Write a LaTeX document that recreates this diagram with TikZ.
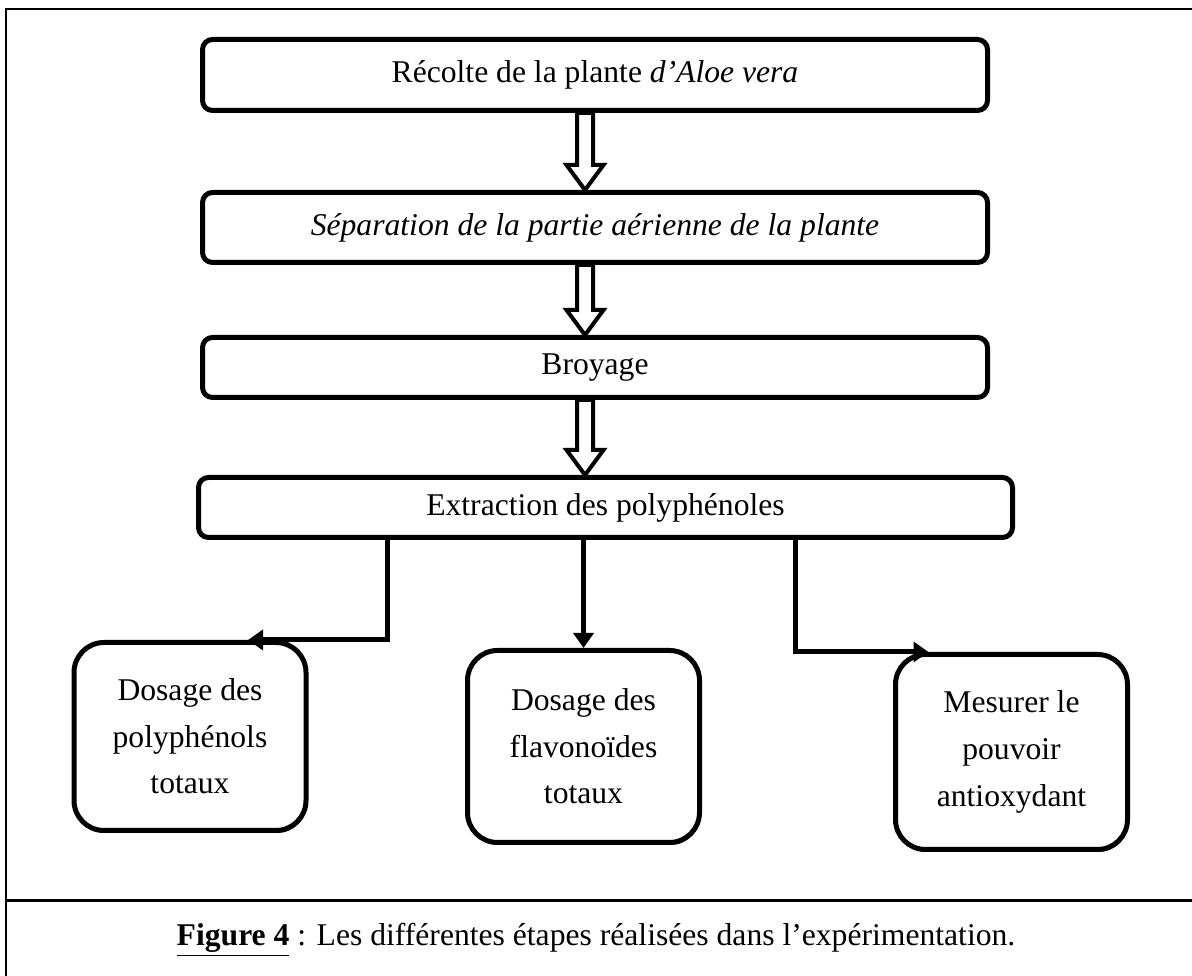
\documentclass[tikz,border=0pt]{standalone}
\usepackage{fontspec}
\setmainfont{Liberation Serif}
\usepackage{tikz}
\usetikzlibrary{arrows.meta,calc,positioning,shadows,backgrounds}
\newcommand{\hollowdown}[2]{%
  \draw[creuse] ($(#1.south -| ax)+(-0.16,0)$) -- ($(#2.north -| ax)+(-0.16,0.5)$)
    -- ($(#2.north -| ax)+(-0.37,0.5)$) -- (#2.north -| ax)
    -- ($(#2.north -| ax)+(0.37,0.5)$) -- ($(#2.north -| ax)+(0.16,0.5)$)
    -- ($(#1.south -| ax)+(0.16,0)$) -- cycle;}

\begin{document}
\begin{tikzpicture}[
  etape/.style={draw,line width=0.1cm,rounded corners=0.2cm,fill=white,inner sep=0pt,
    font=\fontsize{18}{26.5}\selectfont},
  finale/.style={draw,line width=0.1cm,rounded corners=0.6cm,fill=white,inner sep=0pt,
    align=center,minimum width=4.64cm,font=\fontsize{18}{26.5}\selectfont,
    drop shadow={shadow xshift=0.02cm,shadow yshift=-0.05cm,fill=black!75,opacity=1}},
  fleche/.style={line width=0.1cm,-{Triangle[length=0.3cm,width=0.4cm]}},
  creuse/.style={draw,line width=0.08cm,fill=white,line join=miter}]
\useasboundingbox (0,0) rectangle (23.84,19.52);
% cadre
\draw[line width=0.04cm] (0.12,0)--(0.12,19.34)--(23.84,19.34);
\draw[line width=0.06cm] (0.12,1.5)--(23.84,1.5);
\coordinate (ax) at (11.7,0);
% etapes
\node[etape,minimum width=15.7cm,minimum height=1.42cm] (b1) at (11.9,18.02)
  {Récolte de la plante \textit{d’Aloe vera}};
\node[etape,minimum width=15.7cm,minimum height=1.4cm] (b2) at (11.9,14.97)
  {\textit{Séparation de la partie aérienne de la plante}};
\node[etape,minimum width=15.7cm,minimum height=1.2cm] (b3) at (11.9,12.17) {Broyage};
\node[etape,minimum width=16.28cm,minimum height=1.2cm] (b4) at (12.11,9.37)
  {Extraction des polyphénoles};
\node[finale,minimum height=3.76cm] (b5) at (3.8,4.79) {Dosage des\\polyphénols\\totaux};
\node[finale,minimum height=3.84cm] (b6) at (11.67,4.59) {Dosage des\\flavonoïdes\\totaux};
\node[finale,minimum height=3.9cm] (b7) at (20.23,4.48) {Mesurer le\\pouvoir\\antioxydant};
\begin{scope}[on background layer]
\hollowdown{b1}{b2}
\hollowdown{b2}{b3}
\hollowdown{b3}{b4}
\end{scope}
% branches
\draw[fleche] ($(b4.south)+(-4.36,0)$) |- ([xshift=1.16cm]b5.north);
\draw[fleche] (b4.south -| b6.north) -- (b6.north);
\draw[fleche] ($(b4.south)+(3.8,0)$) |- ([xshift=-1.66cm]b7.north);
% legende
\node[font=\fontsize{18}{22}\selectfont] (leg) at (11.92,0.72)
  {\textbf{\underline{Figure 4}} : Les différentes étapes réalisées dans l’expérimentation.};
\end{tikzpicture}
\end{document}
